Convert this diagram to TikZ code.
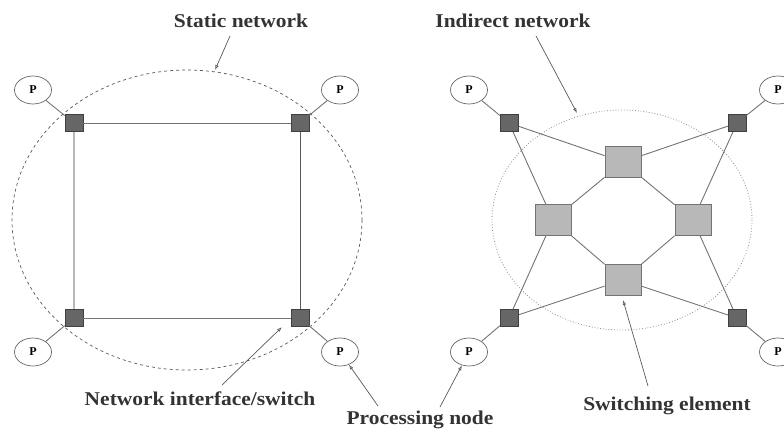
\documentclass[tikz,border=0pt]{standalone}
\usepackage{fontspec}
\setmainfont{Liberation Serif}
\usetikzlibrary{shapes.geometric,arrows.meta}
\newcommand{\widetxt}[1]{\scalebox{1.1}[1]{#1}}
\begin{document}
\begin{tikzpicture}[x=1pt,y=-1pt,
  pnode/.style={ellipse,draw=black!60,line width=0.7pt,minimum width=37pt,minimum height=28pt,inner sep=0pt,font=\fontsize{12}{12}\selectfont\bfseries},
  iface/.style={draw=black!75,fill=black!60,minimum width=18pt,minimum height=17pt,inner sep=0pt},
  swel/.style={draw=black!55,fill=black!28,line width=0.8pt,minimum width=36pt,minimum height=31pt,inner sep=0pt},
  lbl/.style={font=\fontsize{19.5}{20}\selectfont\bfseries,text=black!80},
  link/.style={draw=black!55,line width=0.9pt},
  ptr/.style={draw=black!65,line width=0.7pt,-{Latex[open,length=5pt,width=3.5pt]}}]
\useasboundingbox (0,0) rectangle (784,431);
% ---------- static network ----------
\draw[black!65,dashed,dash pattern=on 3pt off 3pt,line width=0.7pt] (187,220) ellipse [x radius=175, y radius=150];
\node[iface] (s1) at (74,123) {};
\node[iface] (s2) at (300,123) {};
\node[iface] (s3) at (74,318) {};
\node[iface] (s4) at (300,318) {};
\node[pnode] (p1) at (33,90) {P};
\node[pnode] (p2) at (340,90) {P};
\node[pnode] (p3) at (33,352) {P};
\node[pnode] (p4) at (340,352) {P};
\draw[link] (s1) -- (s2);
\draw[draw=black!28,line width=2.4pt] (s1) -- (s3);
\draw[link,draw=black!65] (s2) -- (s4);
\draw[link] (s3) -- (s4);
\draw[link] (p1) -- (s1);
\draw[link] (p2) -- (s2);
\draw[link] (p3) -- (s3);
\draw[link] (p4) -- (s4);
\node[lbl] (lstatic) at (241,21) {\widetxt{Static network}};
\coordinate (cstatic) at (215,70);
\draw[ptr] (230,36) -- (cstatic);
\node[lbl] (lnis) at (200,399) {\widetxt{Network interface/switch}};
\coordinate (cnis) at (282,327);
\draw[ptr] (222,385) -- (cnis);
% ---------- indirect network ----------
\draw[black!45,dotted,line width=0.8pt] (622,220) ellipse [x radius=130, y radius=110];
\node[iface] (t1) at (509,123) {};
\node[iface] (t2) at (737,123) {};
\node[iface] (t3) at (509,318) {};
\node[iface] (t4) at (737,318) {};
\node[pnode] (q1) at (469,90) {P};
\node[pnode] (q2) at (778,90) {P};
\node[pnode] (q3) at (469,352) {P};
\node[pnode] (q4) at (778,352) {P};
\node[swel] (e1) at (623,162) {};
\node[swel] (e2) at (553,220) {};
\node[swel] (e3) at (693,220) {};
\node[swel] (e4) at (623,280) {};
\draw[link] (e1) -- (e2);
\draw[link] (e1) -- (e3);
\draw[link] (e2) -- (e4);
\draw[link] (e3) -- (e4);
\draw[link] (t1.center) -- (e1);
\draw[link] (t1.center) -- (e2);
\draw[link] (t2.center) -- (e1);
\draw[link] (t2.center) -- (e3);
\draw[link] (t3.center) -- (e2);
\draw[link] (t3.center) -- (e4);
\draw[link] (t4.center) -- (e3);
\draw[link] (t4.center) -- (e4);
\node[iface] at (t1) {};
\node[iface] at (t2) {};
\node[iface] at (t3) {};
\node[iface] at (t4) {};
\draw[link] (q1) -- (t1);
\draw[link] (q2) -- (t2);
\draw[link] (q3) -- (t3);
\draw[link] (q4) -- (t4);
\node[lbl] (lind) at (513,21) {\widetxt{Indirect network}};
\coordinate (cind) at (577,113);
\draw[ptr] (536,36) -- (cind);
\node[lbl] (lsw) at (667,406) {\widetxt{Switching element}};
\coordinate (csw) at (623,300);
\draw[ptr] (648,386) -- (csw);
% ---------- processing node ----------
\node[lbl] (lpn) at (420,420) {\widetxt{Processing node}};
\draw[ptr] (378,406) -- (p4);
\draw[ptr] (440,407) -- (q3);
\end{tikzpicture}
\end{document}
